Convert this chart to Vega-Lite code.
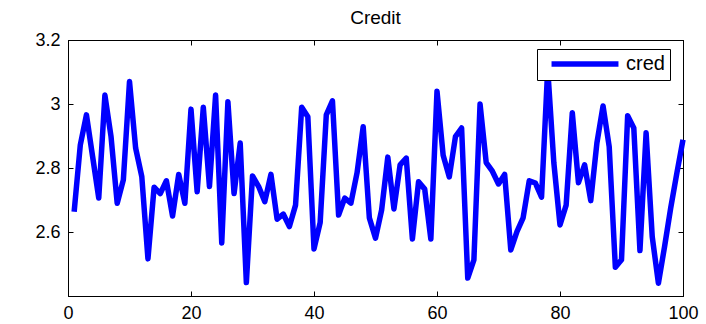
{
  "$schema": "https://vega.github.io/schema/vega-lite/v6.json",
  "width": 615,
  "height": 256,
  "autosize": {"type": "none"},
  "padding": {"left": 68, "top": 40, "right": 23, "bottom": 28},
  "background": "white",
  "title": {"text": "Credit", "fontSize": 19, "fontWeight": "normal", "font": "Liberation Sans", "color": "black", "anchor": "middle", "frame": "group", "offset": 3},
  "data": {"values": [
    {"t":1,"cred":2.663},{"t":2,"cred":2.872},{"t":3,"cred":2.966},{"t":4,"cred":2.836},{"t":5,"cred":2.706},
    {"t":6,"cred":3.028},{"t":7,"cred":2.898},{"t":8,"cred":2.69},{"t":9,"cred":2.763},{"t":10,"cred":3.07},
    {"t":11,"cred":2.862},{"t":12,"cred":2.773},{"t":13,"cred":2.516},{"t":14,"cred":2.74},{"t":15,"cred":2.72},
    {"t":16,"cred":2.76},{"t":17,"cred":2.65},{"t":18,"cred":2.78},{"t":19,"cred":2.69},{"t":20,"cred":2.984},
    {"t":21,"cred":2.726},{"t":22,"cred":2.99},{"t":23,"cred":2.742},{"t":24,"cred":3.028},{"t":25,"cred":2.566},
    {"t":26,"cred":3.007},{"t":27,"cred":2.72},{"t":28,"cred":2.878},{"t":29,"cred":2.442},{"t":30,"cred":2.775},
    {"t":31,"cred":2.742},{"t":32,"cred":2.695},{"t":33,"cred":2.78},{"t":34,"cred":2.64},{"t":35,"cred":2.656},
    {"t":36,"cred":2.617},{"t":37,"cred":2.684},{"t":38,"cred":2.99},{"t":39,"cred":2.96},{"t":40,"cred":2.547},
    {"t":41,"cred":2.629},{"t":42,"cred":2.966},{"t":43,"cred":3.01},{"t":44,"cred":2.653},{"t":45,"cred":2.706},
    {"t":46,"cred":2.69},{"t":47,"cred":2.785},{"t":48,"cred":2.929},{"t":49,"cred":2.644},{"t":50,"cred":2.581},
    {"t":51,"cred":2.669},{"t":52,"cred":2.834},{"t":53,"cred":2.672},{"t":54,"cred":2.81},{"t":55,"cred":2.831},
    {"t":56,"cred":2.578},{"t":57,"cred":2.757},{"t":58,"cred":2.734},{"t":59,"cred":2.578},{"t":60,"cred":3.04},
    {"t":61,"cred":2.84},{"t":62,"cred":2.772},{"t":63,"cred":2.898},{"t":64,"cred":2.925},{"t":65,"cred":2.456},
    {"t":66,"cred":2.513},{"t":67,"cred":3.0},{"t":68,"cred":2.817},{"t":69,"cred":2.79},{"t":70,"cred":2.75},
    {"t":71,"cred":2.78},{"t":72,"cred":2.544},{"t":73,"cred":2.601},{"t":74,"cred":2.644},{"t":75,"cred":2.76},
    {"t":76,"cred":2.753},{"t":77,"cred":2.709},{"t":78,"cred":3.11},{"t":79,"cred":2.816},{"t":80,"cred":2.622},
    {"t":81,"cred":2.684},{"t":82,"cred":2.973},{"t":83,"cred":2.754},{"t":84,"cred":2.81},{"t":85,"cred":2.698},
    {"t":86,"cred":2.878},{"t":87,"cred":2.994},{"t":88,"cred":2.867},{"t":89,"cred":2.49},{"t":90,"cred":2.513},
    {"t":91,"cred":2.963},{"t":92,"cred":2.925},{"t":93,"cred":2.542},{"t":94,"cred":2.91},{"t":95,"cred":2.585},
    {"t":96,"cred":2.44},{"t":97,"cred":2.554},{"t":98,"cred":2.675},{"t":99,"cred":2.784},{"t":100,"cred":2.888}
  ]},
  "layer": [
    {
      "mark": {"type": "line", "strokeWidth": 5.5, "strokeJoin": "round"},
      "encoding": {
        "x": {"field": "t", "type": "quantitative", "scale": {"domain": [0, 100], "nice": false, "zero": false},
              "axis": {"orient": "bottom", "title": null, "values": [0, 20, 40, 60, 80, 100], "format": "d"}},
        "y": {"field": "cred", "type": "quantitative", "scale": {"domain": [2.4, 3.2], "nice": false, "zero": false},
              "axis": {"orient": "left", "title": null, "values": [2.6, 2.8, 3, 3.2], "format": "~g"}},
        "color": {"datum": "cred", "type": "nominal", "scale": {"range": ["#0000ff"]},
                  "legend": {"orient": "none", "legendX": 469, "legendY": 9, "title": null,
                             "symbolType": "M-8,0H8", "symbolStrokeWidth": 5.5, "symbolSize": 70,
                             "symbolStrokeColor": "#0000ff", "symbolFillColor": "transparent",
                             "labelFontSize": 20, "labelFont": "Liberation Sans",
                             "labelColor": "black", "fillColor": "white", "strokeColor": "black",
                             "padding": 5, "symbolOffset": 33, "labelOffset": 31}}
      }
    },
    {
      "mark": {"type": "line", "strokeOpacity": 0},
      "encoding": {
        "x": {"field": "t", "type": "quantitative",
              "axis": {"orient": "top", "title": null, "values": [0, 20, 40, 60, 80, 100], "labels": false}},
        "y": {"field": "cred", "type": "quantitative",
              "axis": {"orient": "right", "title": null, "values": [2.6, 2.8, 3, 3.2], "labels": false}}
      }
    }
  ],
  "config": {
    "view": {"stroke": "black", "strokeWidth": 1},
    "axis": {
      "grid": false,
      "domainColor": "black",
      "domainWidth": 1,
      "tickColor": "black",
      "tickWidth": 1,
      "tickSize": -5,
      "labelPadding": 13,
      "labelFont": "Liberation Sans",
      "labelFontSize": 18,
      "labelColor": "black",
      "labelFlush": false,
      "labelOverlap": false,
      "labelBound": false
    }
  }
}
